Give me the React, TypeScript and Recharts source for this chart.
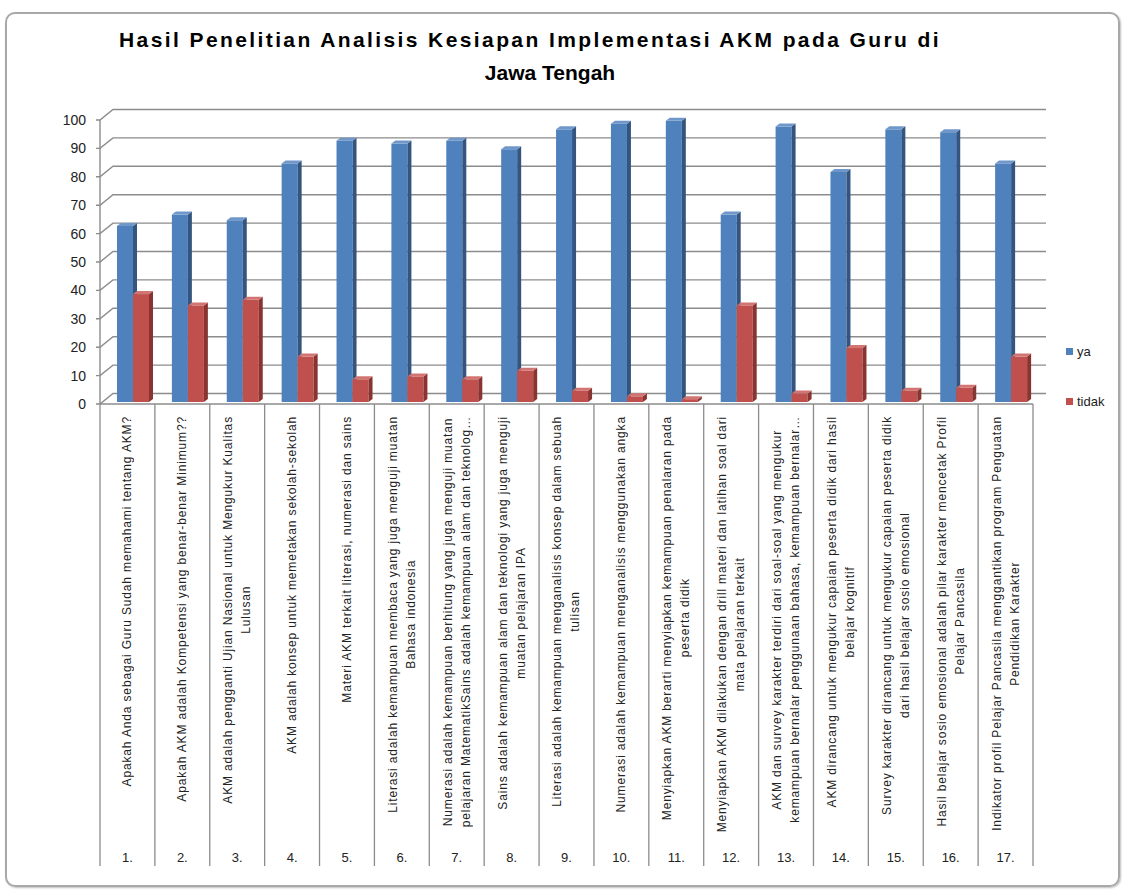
import React from 'react';
import { BarChart, Bar, XAxis, YAxis, CartesianGrid } from 'recharts';

const categories = ['1.', '2.', '3.', '4.', '5.', '6.', '7.', '8.', '9.', '10.', '11.', '12.', '13.', '14.', '15.', '16.', '17.'];

const questions: string[][] = [
  ['Apakah Anda sebagai Guru Sudah memahami tentang AKM?'],
  ['Apakah AKM adalah Kompetensi yang benar-benar Minimum??'],
  ['AKM adalah pengganti Ujian Nasional untuk Mengukur Kualitas', 'Lulusan'],
  ['AKM adalah konsep untuk memetakan sekolah-sekolah'],
  ['Materi AKM terkait literasi, numerasi dan sains'],
  ['Literasi adalah kemampuan membaca yang juga menguji muatan', 'Bahasa indonesia'],
  ['Numerasi adalah kemampuan berhitung yang juga menguji muatan', 'pelajaran MatematikSains adalah kemampuan alam dan teknolog…'],
  ['Sains adalah kemampuan alam dan teknologi yang juga menguji', 'muatan pelajaran IPA'],
  ['Literasi adalah kemampuan menganalisis konsep dalam sebuah', 'tulisan'],
  ['Numerasi adalah kemampuan menganalisis menggunakan angka'],
  ['Menyiapkan AKM berarti menyiapkan kemampuan penalaran pada', 'peserta didik'],
  ['Menyiapkan AKM dilakukan dengan drill materi dan latihan soal dari', 'mata pelajaran terkait'],
  ['AKM dan survey karakter terdiri dari soal-soal yang mengukur', 'kemampuan bernalar penggunaan bahasa, kemampuan bernalar…'],
  ['AKM dirancang untuk mengukur capaian peserta didik dari hasil', 'belajar kognitif'],
  ['Survey karakter dirancang untuk mengukur capaian peserta didik', 'dari hasil belajar sosio emosional'],
  ['Hasil belajar sosio emosional adalah pilar karakter mencetak Profil', 'Pelajar Pancasila'],
  ['Indikator profil Pelajar Pancasila menggantikan program Penguatan', 'Pendidikan Karakter'],
];

const yaValues = [62, 66, 64, 84, 92, 91, 92, 89, 96, 98, 99, 66, 97, 81, 96, 95, 84];
const tidakValues = [38, 34, 36, 16, 8, 9, 8, 11, 4, 2, 1, 34, 3, 19, 4, 5, 16];
const yTicks = [0, 10, 20, 30, 40, 50, 60, 70, 80, 90, 100];
const seriesNames = ['ya', 'tidak'];
const titleLines = ['Hasil Penelitian Analisis Kesiapan Implementasi AKM pada Guru di', 'Jawa Tengah'];

const data = categories.map((c, i) => ({
  no: c,
  ya: yaValues[i],
  tidak: tidakValues[i],
}));

const BLUE = '#4F81BD';
const RED = '#C0504D';
const FONT = '"Liberation Sans", Arial, sans-serif';

const make3D = (front: string, side: string, top: string) => (props: any) => {
  const { x, y, width, height } = props;
  if (x == null || y == null || !width) return <g />;
  const sx = x + 6;
  const sy = y - 2;
  const d = 4;
  const dy = 3;
  const h = Math.max(height, 0);
  return (
    <g>
      <rect x={sx} y={sy} width={width} height={h} fill={front} />
      <polygon
        points={`${sx + width},${sy} ${sx + width + d},${sy - dy} ${sx + width + d},${sy + h - dy} ${sx + width},${sy + h}`}
        fill={side}
      />
      <polygon
        points={`${sx},${sy} ${sx + d},${sy - dy} ${sx + width + d},${sy - dy} ${sx + width},${sy}`}
        fill={top}
      />
    </g>
  );
};

const BlueShape = make3D(BLUE, '#34557F', '#7097C9');
const RedShape = make3D(RED, '#8A3432', '#D27472');

const GridLine = (props: any) => {
  const { x1, x2, y1 } = props;
  const dx = 13;
  const dy = 10.5;
  return (
    <path
      d={`M${x1 - 4},${y1} L${x1},${y1} L${x1 + dx},${y1 - dy} L${x2 + dx},${y1 - dy}`}
      stroke="#8c8c8c"
      strokeWidth={1.4}
      fill="none"
    />
  );
};

const CategoryTick = (props: any) => {
  const { x, y, payload, index } = props;
  const half = payload && payload.offset ? payload.offset : 27.45;
  const lines = questions[index] || [];
  const isLast = index === categories.length - 1;
  return (
    <g>
      <line x1={x - half} y1={y} x2={x - half} y2={y + 462} stroke="#8c8c8c" strokeWidth={1.3} />
      {isLast && <line x1={x + half} y1={y} x2={x + half} y2={y + 462} stroke="#8c8c8c" strokeWidth={1.3} />}
      <foreignObject x={x - half - 4} y={y + 12} width={half * 2 + 8} height={436} style={{ overflow: 'visible' }}>
        <div
          style={{
            width: '100%',
            height: '100%',
            display: 'flex',
            justifyContent: 'center',
            alignItems: 'flex-start',
          }}
        >
          <div
            style={{
              writingMode: 'vertical-rl',
              transform: 'rotate(180deg)',
              textAlign: 'center',
              whiteSpace: 'pre',
              fontFamily: FONT,
              fontSize: 12,
              lineHeight: '18px',
              letterSpacing: '0.85px',
              color: '#222',
              height: 'max-content',
            }}
          >
            {lines.join('\n')}
          </div>
        </div>
      </foreignObject>
      <text x={x} y={y + 458} textAnchor="middle" fontFamily={FONT} fontSize={13} fill="#222">
        {payload.value}
      </text>
    </g>
  );
};

export default function App() {
  return (
    <div style={{ position: 'absolute', left: 0, top: 0, width: 1124, height: 890, background: '#fff', overflow: 'hidden' }}>
      <div
        style={{
          position: 'absolute',
          left: 5,
          top: 12,
          width: 1111,
          height: 871,
          border: '2px solid #a8a8a8',
          borderRadius: 10,
          boxShadow: '1px 1px 2px #c0c0c0',
        }}
      />
      {titleLines.map((t, i) => (
        <div
          key={i}
          style={{
            position: 'absolute',
            left: i === 0 ? 0 : 20,
            width: 1060,
            top: i === 0 ? 28 : 61,
            textAlign: 'center',
            fontFamily: FONT,
            fontWeight: 'bold',
            fontSize: 21,
            letterSpacing: i === 0 ? '2.4px' : '0px',
            color: '#000',
            whiteSpace: 'nowrap',
          }}
        >
          {t}
        </div>
      ))}
      <div style={{ position: 'absolute', left: 0, top: 0 }}>
        <BarChart
          width={1124}
          height={890}
          data={data}
          margin={{ top: 120, right: 91, left: 40, bottom: 24 }}
          barGap={0}
          barSize={16}
        >
          <CartesianGrid vertical={false} horizontal={GridLine as any} stroke="#8c8c8c" />
          <XAxis
            dataKey="no"
            height={462}
            interval={0}
            tickSize={0}
            tickMargin={0}
            tickLine={false}
            axisLine={{ stroke: '#8c8c8c', strokeWidth: 1.4 }}
            tick={<CategoryTick />}
          />
          <YAxis
            width={60}
            domain={[0, 100]}
            ticks={yTicks}
            interval={0}
            tickLine={false}
            axisLine={{ stroke: '#8c8c8c', strokeWidth: 1.4 }}
            tickMargin={8}
            tick={{ fontFamily: FONT, fontSize: 14, fill: '#222' }}
          />
          <Bar dataKey="ya" name={seriesNames[0]} fill={BLUE} shape={BlueShape} isAnimationActive={false} />
          <Bar dataKey="tidak" name={seriesNames[1]} fill={RED} shape={RedShape} isAnimationActive={false} />
        </BarChart>
      </div>
      <div style={{ position: 'absolute', left: 1066, top: 343, fontFamily: FONT, fontSize: 13, color: '#222' }}>
        {seriesNames.map((n, i) => (
          <div key={n} style={{ display: 'flex', alignItems: 'center', height: 16, marginBottom: i === 0 ? 34 : 0 }}>
            <span style={{ display: 'inline-block', width: 7, height: 7, background: i === 0 ? BLUE : RED, marginRight: 4 }} />
            <span>{n}</span>
          </div>
        ))}
      </div>
    </div>
  );
}
